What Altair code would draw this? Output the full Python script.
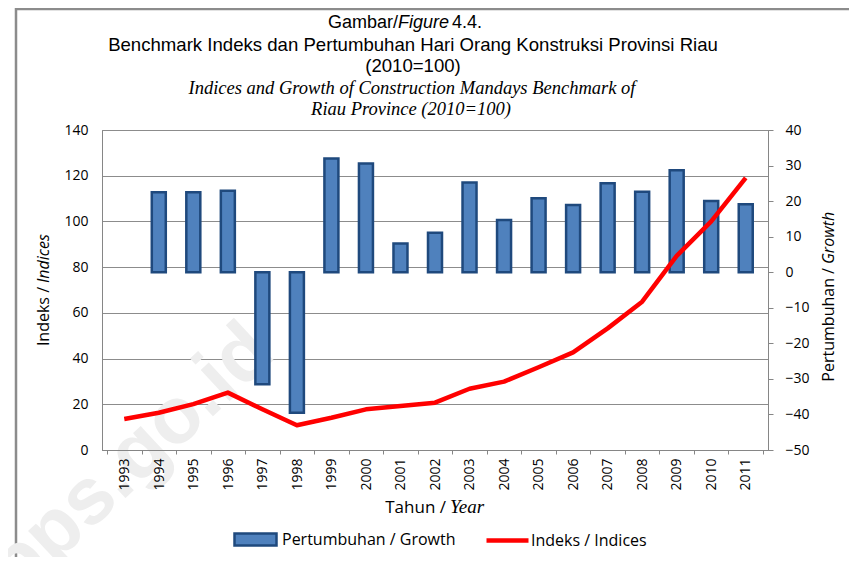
import altair as alt
import pandas as pd

# ---- data ----
years_line = list(range(1993, 2012))
index_values = [13.6, 16.3, 20.1, 25.1, 17.8, 10.8, 14.1, 17.8, 19.2, 20.7,
                26.8, 29.9, 36.2, 42.7, 53.2, 64.9, 84.9, 100.0, 119.1]
years_bar = list(range(1994, 2012))
growth_values = [22.5, 22.5, 22.9, -31.5, -39.5, 32.0, 30.6, 8.1, 11.1,
                 25.2, 14.7, 20.8, 18.9, 25.0, 22.6, 28.7, 20.0, 19.1]
left_ticks = [0, 20, 40, 60, 80, 100, 120, 140]
right_ticks = [-50, -40, -30, -20, -10, 0, 10, 20, 30, 40]
x_boundaries = [1992.5 + i for i in range(20)]
bar_series = "Pertumbuhan / Growth"
line_series = "Indeks / Indices"

bar_df = pd.DataFrame({"year": years_bar, "growth": growth_values, "bs": [bar_series] * len(years_bar)})
line_df = pd.DataFrame({"year": years_line, "index": index_values, "ls": [line_series] * len(years_line)})

GRAY = "#868686"
SANS = "Open Sans"

x_axis = alt.Axis(values=x_boundaries,
                  labelExpr="datum.value < 2011 ? format(datum.value + 0.5, 'd') : ''",
                  labelAngle=270, labelOffset=17.5, labelFlush=False, labelOverlap=False,
                  tickSize=4, labelPadding=4, grid=False, title=None, zindex=1,
                  labelFont=SANS, labelFontSize=14, labelColor="black",
                  domainColor=GRAY, tickColor=GRAY)
x_enc = alt.X("year:Q", scale=alt.Scale(domain=[1992.5, 2011.5], nice=False, zero=False), axis=x_axis)

bars = alt.Chart(bar_df).mark_bar(size=14, stroke="#1f497d", strokeWidth=2.5).encode(
    x=x_enc,
    y=alt.Y("growth:Q", scale=alt.Scale(domain=[-50, 40], nice=False),
            axis=alt.Axis(orient="right", values=right_ticks, grid=False, tickSize=5,
                          labelPadding=12, title=None, labelFont=SANS, labelFontSize=14,
                          labelColor="black", domainColor=GRAY, tickColor=GRAY)),
    fill=alt.Fill("bs:N", scale=alt.Scale(domain=[bar_series], range=["#4f81bd"]),
                  legend=alt.Legend(title=None, orient="none", legendX=131, legendY=387,
                                    symbolType="M-1,-0.286L1,-0.286L1,0.286L-1,0.286Z",
                                    symbolSize=1764, symbolStrokeColor="#1f497d",
                                    symbolStrokeWidth=2.5, labelFont=SANS, labelFontSize=16,
                                    labelColor="black", labelOffset=4, labelLimit=400, padding=0)),
)

line = alt.Chart(line_df).mark_line(strokeWidth=4.5, strokeJoin="round").encode(
    x=x_enc,
    y=alt.Y("index:Q", scale=alt.Scale(domain=[0, 140], nice=False),
            axis=alt.Axis(orient="left", values=left_ticks, grid=True, gridColor="#8c8c8c",
                          ticks=False, tickSize=0, labelPadding=14, title=None,
                          labelFont=SANS, labelFontSize=14, labelColor="black",
                          domainColor=GRAY)),
    stroke=alt.Stroke("ls:N", scale=alt.Scale(domain=[line_series], range=["#ff0000"]),
                      legend=alt.Legend(title=None, orient="none", legendX=382, legendY=387,
                                        symbolType="stroke", symbolSize=1764,
                                        symbolStrokeWidth=4.5, labelFont=SANS, labelFontSize=16,
                                        labelColor="black", labelOffset=0, labelLimit=400, padding=0)),
)


def txt(label, x, y, **kw):
    return alt.Chart(pd.DataFrame({"t": [label]})).mark_text(**kw).encode(
        text="t:N", x=alt.value(x), y=alt.value(y))


def rule(x, x2, y, y2):
    return alt.Chart(pd.DataFrame({"t": [0]})).mark_rule(color="#8c8c8c", strokeWidth=2.5).encode(
        x=alt.value(x), x2=alt.value(x2), y=alt.value(y), y2=alt.value(y2))


frame_top = rule(-86, 760, -121, -121)
frame_left = rule(-86, -86, -122, 440)

watermark = txt("bps.go.id", 29, 330, font="Liberation Sans", fontSize=80, fontWeight="bold",
                color="#eeeeee", angle=317, align="center", baseline="middle")

T = "Liberation Sans"
S = "Liberation Serif"
titles = [
    txt("Gambar/", 226, -107, font=T, fontSize=18, align="left", color="black"),
    txt("Figure", 296, -107, font=T, fontSize=18, fontStyle="italic", align="left", color="black"),
    txt("4.4.", 350, -107, font=T, fontSize=18, align="left", color="black"),
    txt("Benchmark Indeks dan Pertumbuhan Hari Orang Konstruksi Provinsi Riau", 311, -85,
        font=T, fontSize=18.6, align="center", color="black"),
    txt("(2010=100)", 311, -64, font=T, fontSize=18.6, align="center", color="black"),
    txt("Indices and Growth of Construction Mandays Benchmark of", 310, -42,
        font=S, fontSize=18.5, fontStyle="italic", align="center", color="black"),
    txt("Riau Province (2010=100)", 309, -21,
        font=S, fontSize=18.5, fontStyle="italic", align="center", color="black"),
    # left axis title
    txt("Indeks /", -58, 157, font=SANS, fontSize=16, angle=270, align="right", baseline="middle", color="black"),
    txt("Indices", -58, 153, font=SANS, fontSize=16, angle=270, fontStyle="italic", align="left", baseline="middle", color="black"),
    # right axis title
    txt("Pertumbuhan /", 727, 138, font=SANS, fontSize=16, angle=270, align="right", baseline="middle", color="black"),
    txt("Growth", 727, 134, font=SANS, fontSize=16, angle=270, fontStyle="italic", align="left", baseline="middle", color="black"),
    # x axis title
    txt("Tahun /", 344, 383, font=SANS, fontSize=17, align="right", baseline="alphabetic", color="black"),
    txt("Year", 348, 383, font=S, fontSize=19, fontStyle="italic", align="left", baseline="alphabetic", color="black"),
]

chart = alt.layer(frame_top, frame_left, watermark, bars, line, *titles).resolve_scale(
    y="independent"
).resolve_legend(fill="independent", stroke="independent").properties(
    width=666, height=320,
    padding={"left": 94, "top": 122, "right": 81, "bottom": 107},
    autosize=alt.AutoSizeParams(type="none"),
).configure_view(stroke=GRAY, strokeWidth=1)

chart.save("out.html", embed_options={"renderer": "svg", "actions": False})
